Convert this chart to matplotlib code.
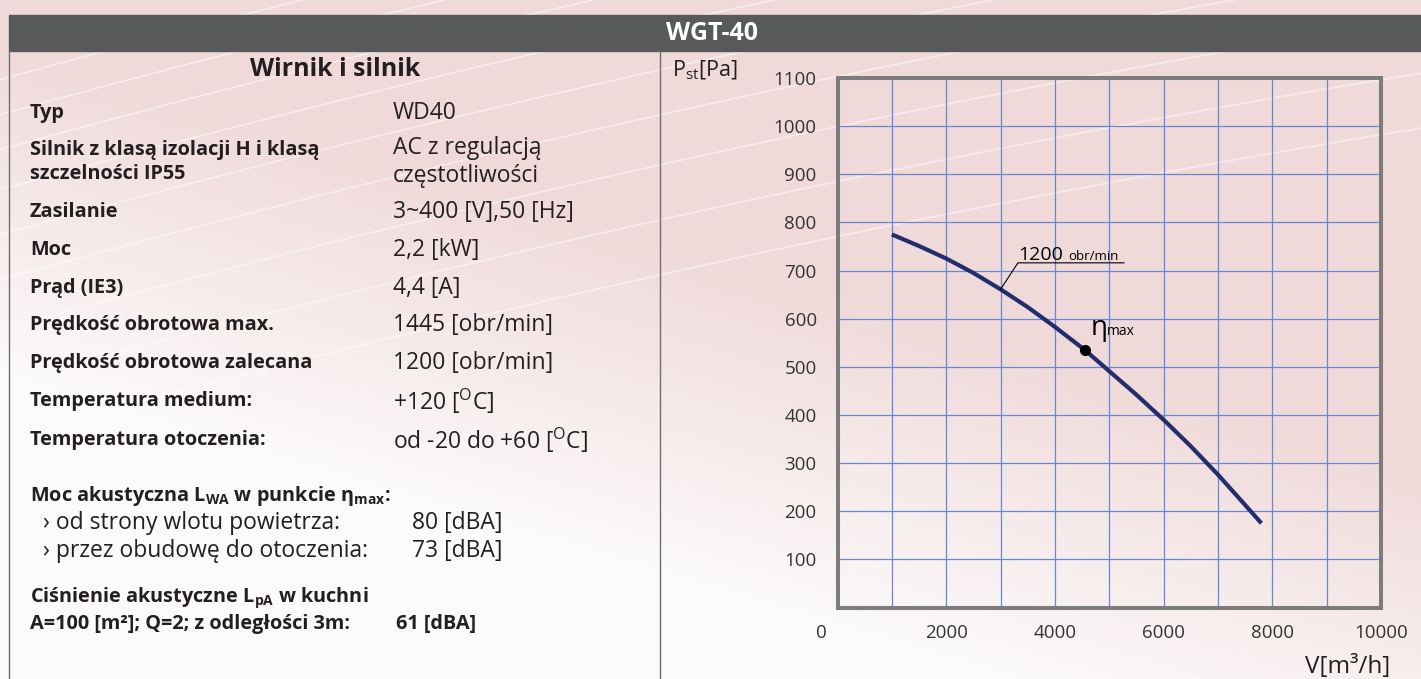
import numpy as np
import matplotlib.pyplot as plt
from matplotlib.patches import Rectangle
from matplotlib.transforms import ScaledTranslation

# Fan curve WGT-40 at 1200 obr/min
flow = [1000, 1500, 2000, 2500, 3000, 3500, 4000, 4550, 5000, 5500, 6000, 6500, 7000, 7500, 7800]
pressure = [775, 751, 725, 695, 661, 624, 583, 535, 491, 442, 390, 335, 276, 213, 175]
eta_flow, eta_pressure = 4550, 534

x_ticks = [0, 2000, 4000, 6000, 8000, 10000]
y_ticks = [100, 200, 300, 400, 500, 600, 700, 800, 900, 1000, 1100]

# Table on the left
labels = ["Typ", "Silnik z klasą izolacji H i klasą\nszczelności IP55", "Zasilanie", "Moc",
          "Prąd (IE3)", "Prędkość obrotowa max.", "Prędkość obrotowa zalecana",
          "Temperatura medium:", "Temperatura otoczenia:"]
values = ["WD40", "AC z regulacją\nczęstotliwości", "3~400 [V],50 [Hz]", "2,2 [kW]",
          "4,4 [A]", "1445 [obr/min]", "1200 [obr/min]",
          "+120 [$^{\\mathrm{O}}$C]", "od -20 do +60 [$^{\\mathrm{O}}$C]"]
noise_labels = ["› od strony wlotu powietrza:", "› przez obudowę do otoczenia:"]
noise_values = ["80 [dBA]", "73 [dBA]"]

plt.rcParams['font.family'] = ['Open Sans', 'DejaVu Sans']
plt.rcParams['mathtext.fontset'] = 'custom'
plt.rcParams['mathtext.rm'] = 'Open Sans'
plt.rcParams['mathtext.bf'] = 'Open Sans:bold'
plt.rcParams['mathtext.it'] = 'Open Sans:italic'

W, H = 1421, 679
fig = plt.figure(figsize=(W / 100, H / 100), dpi=100)

# full-figure overlay in pixel coordinates
bg = fig.add_axes([0, 0, 1, 1])
bg.set_xlim(0, W)
bg.set_ylim(H, 0)
bg.axis('off')

# pink background fading to white, with a few light streaks
xx, yy = np.meshgrid(np.arange(W), np.arange(H))
t = np.clip(((yy - 0.3 * xx) / H - 0.05) / 0.5, 0, 1)
pink = np.array([240, 217, 217]) / 255
white = np.array([252, 250, 250]) / 255
img = pink[None, None, :] * (1 - t[..., None]) + white[None, None, :] * t[..., None]
bg.imshow(img, extent=(0, W, H, 0), aspect='auto', zorder=0)
sx = np.linspace(0, W, 200)
for y0 in [60, 95, 130, 170, 215, 260, 310, 365, 420]:
    sy = y0 - 0.22 * sx + 0.00004 * (sx - 700) ** 2
    bg.plot(sx, sy, color='white', lw=1.2, alpha=0.5, zorder=1)

# header bar and frame lines
bg.add_patch(Rectangle((9, 15), W - 9, 36, color='#58595b', zorder=2))
bg.text(712, 33, "WGT-40", color='white', fontsize=18, fontweight='bold',
        ha='center', va='center', zorder=3)
bg.plot([9, 9], [51, H], color='#6d6e70', lw=1, zorder=2)
bg.plot([660, 660], [51, H], color='#6d6e70', lw=1, zorder=2)

ink = '#231f20'
bold_size = 14.3
reg_size = 16.5

# left table
bg.text(335, 69, "Wirnik i silnik", fontsize=18, fontweight='bold', color=ink,
        ha='center', va='center', zorder=3)
row_y = [113, 162, 212, 250, 288, 325, 363, 401, 440]
for lab, val, y in zip(labels, values, row_y):
    bg.text(30, y, lab, fontsize=bold_size, fontweight='bold', color=ink,
            ha='left', va='center', linespacing=1.3, zorder=3)
    bg.text(393, y, val, fontsize=reg_size, color=ink,
            ha='left', va='center', linespacing=1.18, zorder=3)

bg.text(30, 496, "Moc akustyczna L$_{\\mathbf{WA}}$ w punkcie η$_{\\mathbf{max}}$:",
        fontsize=bold_size, fontweight='bold', color=ink, ha='left', va='center', zorder=3)
for lab, val, y in zip(noise_labels, noise_values, [523, 551]):
    bg.text(43, y, lab, fontsize=reg_size, color=ink, ha='left', va='center', zorder=3)
    bg.text(412, y, val, fontsize=reg_size, color=ink, ha='left', va='center', zorder=3)
bg.text(30, 598, "Ciśnienie akustyczne L$_{\\mathbf{pA}}$ w kuchni",
        fontsize=bold_size, fontweight='bold', color=ink, ha='left', va='center', zorder=3)
bg.text(30, 624, "A=100 [m²]; Q=2; z odległości 3m:", fontsize=bold_size, fontweight='bold',
        color=ink, ha='left', va='center', zorder=3)
bg.text(396, 624, "61 [dBA]", fontsize=bold_size, fontweight='bold',
        color=ink, ha='left', va='center', zorder=3)

# axis titles
bg.text(672, 70, "P$_{\\mathrm{st}}$[Pa]", fontsize=15.5, color=ink,
        ha='left', va='center', zorder=3)
bg.text(1390, 673, "V[m³/h]", fontsize=17.5, color=ink,
        ha='right', va='baseline', zorder=3)

# chart
ax = fig.add_axes([837.5 / W, (H - 607.5) / H, (1381 - 837.5) / W, (607.5 - 78) / H])
ax.set_facecolor('none')
ax.set_xlim(0, 10000)
ax.set_ylim(0, 1100)
ax.set_xticks(range(0, 10001, 1000), minor=True)
ax.set_yticks(range(0, 1101, 100), minor=True)
ax.set_xticks(x_ticks)
ax.set_yticks(y_ticks)
ax.grid(True, which='both', color='#6688d0', lw=0.9)
ax.tick_params(which='both', length=0, labelsize=13.5, labelcolor='#333333')
ax.tick_params(axis='x', pad=12)
ax.tick_params(axis='y', pad=15)
for s in ax.spines.values():
    s.set_color('#7c7c7c')
    s.set_linewidth(2.9)
zero_label = ax.get_xticklabels()[0]
zero_label.set_transform(zero_label.get_transform() + ScaledTranslation(-0.16, 0, fig.dpi_scale_trans))

ax.plot(flow, pressure, color='#222d6c', lw=3.0, solid_capstyle='butt',
        solid_joinstyle='round', zorder=3)
ax.plot(eta_flow, eta_pressure, 'o', color='black', ms=7, zorder=4)
ax.text(4650, 566, "η", fontsize=20, color='black', ha='left', va='baseline')
ax.text(4960, 566, "max", fontsize=10, color='black', ha='left', va='baseline')

# speed label with leader line
ax.plot([3000, 3320, 5270], [661, 716, 716], color='black', lw=0.8, zorder=3)
ax.text(3320, 722, "1200", fontsize=14, color='black', ha='left', va='baseline')
ax.text(4240, 722, "obr/min", fontsize=9.5, color='black', ha='left', va='baseline')

fig.savefig('out.png', dpi=100)
